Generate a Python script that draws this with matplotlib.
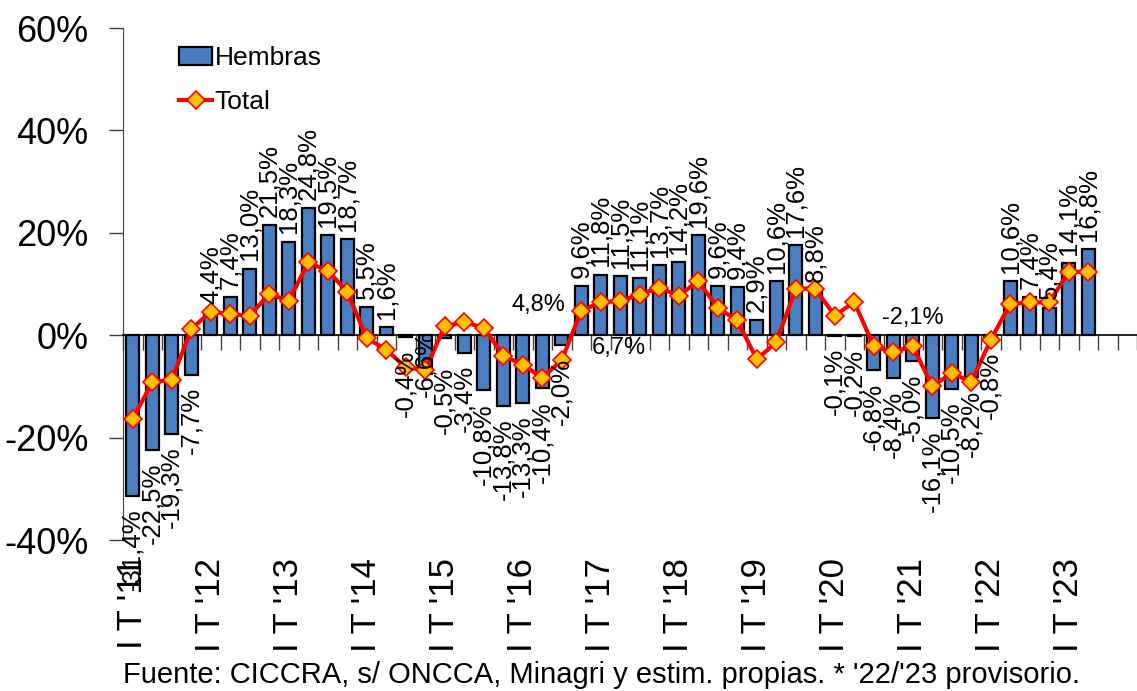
import matplotlib.pyplot as plt
import numpy as np

plt.rcParams['font.family'] = ['Liberation Sans', 'DejaVu Sans']

# variacion interanual por trimestre, I T '11 a II T '23
hembras = [-31.4, -22.5, -19.3, -7.7,
           4.4, 7.4, 13.0, 21.5,
           18.3, 24.8, 19.5, 18.7,
           5.5, 1.6, -0.4, -6.6,
           -0.5, -3.4, -10.8, -13.8,
           -13.3, -10.4, -2.0, 9.6,
           11.8, 11.5, 11.1, 13.7,
           14.2, 19.6, 9.6, 9.4,
           2.9, 10.6, 17.6, 8.8,
           -0.1, -0.2, -6.8, -8.4,
           -5.0, -16.1, -10.5, -8.2,
           -0.8, 10.6, 7.4, 5.4,
           14.1, 16.8]
total = [-16.3, -9.2, -8.7, 1.2,
         4.6, 4.1, 3.8, 8.1,
         6.7, 14.2, 12.6, 8.5,
         -0.6, -2.8, -6.3, -6.8,
         1.8, 2.5, 1.5, -4.0,
         -5.8, -8.3, -4.9, 4.8,
         6.4, 6.7, 7.9, 9.3,
         7.7, 10.6, 5.3, 2.9,
         -4.7, -1.4, 9.1, 9.1,
         3.8, 6.5, -2.2, -3.3,
         -2.1, -10.0, -7.4, -9.2,
         -0.9, 6.1, 6.4, 6.4,
         12.4, 12.4]
years = ["'11", "'12", "'13", "'14", "'15", "'16", "'17", "'18", "'19",
         "'20", "'21", "'22", "'23"]
total_labelled = [23, 25, 40]
footer = "Fuente: CICCRA, s/ ONCCA, Minagri y estim. propias. * '22/'23 provisorio."


def pct(v):
    return '{:.1f}%'.format(v).replace('.', ',')


W, H = 1137, 691
fig = plt.figure(figsize=(W / 100, H / 100), dpi=100)
ax = fig.add_axes([123 / W, 151 / H, 1 - 123 / W, 512 / H])

x = np.arange(len(hembras))
b = ax.bar(x, hembras, width=0.65, color='#4A7EC2', edgecolor='black',
           linewidth=1.6, label='Hembras', zorder=2)
l, = ax.plot(np.arange(len(total)), total, color='red', lw=3, marker='D', ms=9,
             mfc='#FFC000', mec='red', mew=1.2, label='Total', zorder=3)

# etiquetas de las barras
shift = {16: 12}
for i, v in enumerate(hembras):
    if v >= 0:
        ax.annotate(pct(v), (i, v), xytext=(0, 6), textcoords='offset points',
                    rotation=90, ha='center', va='bottom', fontsize=18.5, zorder=4)
    elif i == 15:
        ax.annotate(pct(v), (i, v), xytext=(0, -20), textcoords='offset points',
                    rotation=90, ha='center', va='bottom', fontsize=18.5, zorder=4)
    else:
        ax.annotate(pct(v), (i, v), xytext=(0, -9 - shift.get(i, 0)),
                    textcoords='offset points', rotation=90, ha='center',
                    va='top', fontsize=18.5, zorder=4)

# etiquetas de la serie total
offs = {23: (-31, 4), 25: (-1, -34), 40: (0, 20)}
for i in total_labelled:
    ax.annotate(pct(total[i]), (i, total[i]), xytext=offs[i],
                textcoords='offset points', ha='center', va='center',
                fontsize=17, zorder=4)

ax.set_ylim(-40, 60)
ax.set_xlim(-0.5, 51.15)
ax.set_yticks(np.arange(-40, 61, 20))
ax.set_yticklabels(['{:d}%'.format(int(t)) for t in np.arange(-40, 61, 20)])
ax.tick_params(axis='y', labelsize=26, length=10, width=1, pad=15, color='#404040')

for s in ['top', 'right']:
    ax.spines[s].set_visible(False)
ax.spines['left'].set_color('#404040')
ax.spines['bottom'].set_position(('data', 0))
ax.spines['bottom'].set_color('black')
ax.spines['bottom'].set_linewidth(1.2)
ax.set_xticks(np.arange(-0.5, 52, 1))
ax.set_xticklabels([])
ax.tick_params(axis='x', length=11, width=1, color='#404040', direction='out')

sec = ax.secondary_xaxis('bottom')
sec.spines['bottom'].set_visible(False)
sec.set_xticks(np.arange(0, 52, 4))
sec.set_xticklabels(['I T ' + y for y in years], rotation=90, fontsize=25)
sec.tick_params(length=0, pad=13)

ax.legend([b, l], ['Hembras', 'Total'], loc='upper left',
          bbox_to_anchor=(0.045, 0.985), frameon=False,
          fontsize=19, handlelength=1.25, handletextpad=0.1, labelspacing=0.75,
          borderaxespad=0)

fig.text(0.5286, 1 - 675 / H, footer, ha='center', va='center', fontsize=21)

fig.savefig('out.png', dpi=100)
